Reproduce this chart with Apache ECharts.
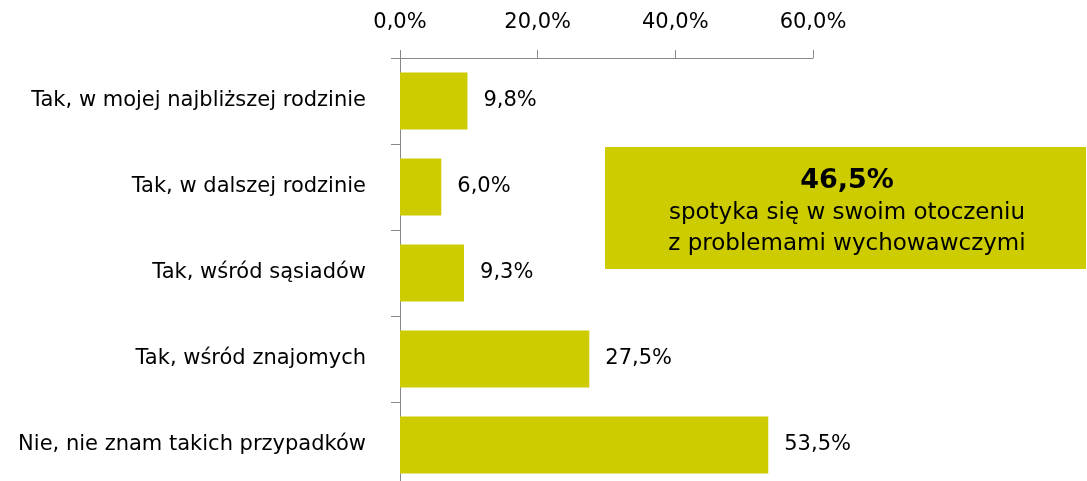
<!DOCTYPE html>
<html>
<head>
<meta charset="utf-8">
<script src="https://cdn.jsdelivr.net/npm/echarts@6/dist/echarts.min.js"></script>
<style>
html, body { margin: 0; padding: 0; background: #fff; overflow: hidden; }
#chart { width: 1087px; height: 488px; }
</style>
</head>
<body>
<div id="chart"></div>
<script>
// dane
var categories = ['Tak, w mojej najbliższej rodzinie', 'Tak, w dalszej rodzinie', 'Tak, wśród sąsiadów', 'Tak, wśród znajomych', 'Nie, nie znam takich przypadków'];
var values = [9.8, 6.0, 9.3, 27.5, 53.5];
var boxTitle = '46,5%';
var boxLines = ['spotyka się w swoim otoczeniu', 'z problemami wychowawczymi'];

var font = 'DejaVu Sans';
function pct(v) {
	return v.toFixed(1).replace('.', ',') + '%';
}

// wykres jest o kilka px wyzszy niz okno - dolna krawedz osi jest ucieta jak w oryginale
var myChart = echarts.init(document.getElementById('chart'));
myChart.setOption({
	animation: false,
	grid: {
		left: 400,
		right: 274,
		top: 58,
		bottom: 0
	},
	xAxis: {
		type: 'value',
		position: 'top',
		min: 0,
		max: 60,
		interval: 20,
		axisLine: {
			show: true,
			lineStyle: { color: '#888', width: 1 }
		},
		axisTick: {
			show: true,
			length: 8,
			lineStyle: { color: '#888' }
		},
		splitLine: { show: false },
		axisLabel: {
			margin: 25,
			color: '#000',
			fontFamily: font,
			fontSize: 21,
			formatter: pct
		}
	},
	yAxis: {
		type: 'category',
		inverse: true,
		data: categories,
		axisLine: {
			show: true,
			lineStyle: { color: '#888', width: 1 }
		},
		axisTick: {
			show: true,
			alignWithLabel: false,
			length: 9,
			lineStyle: { color: '#888', width: 1 }
		},
		axisLabel: {
			margin: 34,
			color: '#000',
			fontFamily: font,
			fontSize: 21
		}
	},
	series: [{
		type: 'bar',
		data: values,
		barWidth: 57,
		itemStyle: { color: '#cccc00' },
		label: {
			show: true,
			position: 'right',
			distance: 16,
			color: '#000',
			fontFamily: font,
			fontSize: 21,
			formatter: function (p) { return pct(p.value); }
		}
	}],
	graphic: [{
		type: 'group',
		left: 605,
		top: 147,
		children: [{
			type: 'rect',
			shape: { x: 0, y: 0, width: 481, height: 122 },
			style: { fill: '#cccc00' }
		}, {
			type: 'text',
			x: 242,
			y: 65,
			style: {
				text: '{b|' + boxTitle + '}\n' + boxLines.join('\n'),
				align: 'center',
				verticalAlign: 'middle',
				fill: '#000',
				font: '23px "DejaVu Sans"',
				lineHeight: 31,
				rich: {
					b: { fontSize: 27, fontWeight: 'bold', fontFamily: font, lineHeight: 33 }
				}
			}
		}]
	}]
});
</script>
</body>
</html>
